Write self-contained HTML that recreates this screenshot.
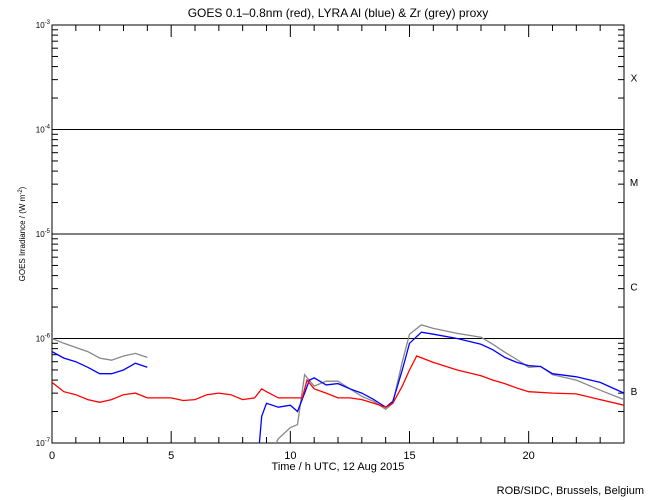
<!DOCTYPE html>
<html><head><meta charset="utf-8"><style>
body{margin:0;background:#fff;}
svg{display:block;font-family:"Liberation Sans",sans-serif;}
</style></head><body>
<svg id="c" width="650" height="500" viewBox="0 0 650 500">
<defs><clipPath id="plotclip"><rect x="52" y="25" width="572" height="418"/></clipPath></defs>
<rect width="650" height="500" fill="#fff"/>
<text x="338" y="17" font-size="12" text-anchor="middle">GOES 0.1–0.8nm (red), LYRA Al (blue) &amp; Zr (grey) proxy</text>
<text transform="translate(25,234) rotate(-90)" font-size="8" text-anchor="middle">GOES Irradiance / (W m<tspan dy="-3" font-size="6">-2</tspan><tspan dy="3">)</tspan></text>
<text x="338" y="470" font-size="11" text-anchor="middle">Time / h UTC, 12 Aug 2015</text>
<text x="644" y="494" font-size="11" text-anchor="end">ROB/SIDC, Brussels, Belgium</text>
<g id="axes"></g>
<g id="series" clip-path="url(#plotclip)"></g>
</svg>
<script>
const hoursRed=[0,0.5,1,1.5,2,2.5,3,3.5,4,4.5,5,5.5,6,6.5,7,7.5,8,8.5,8.8,9,9.5,10,10.5,10.7,11,11.5,12,12.5,13,13.5,14,14.3,14.7,15,15.3,16,17,18,18.5,19,19.6,20,21,22,23,24];
const valsRed=[3.8,3.1,2.9,2.6,2.45,2.6,2.9,3.0,2.7,2.7,2.7,2.55,2.6,2.9,3.0,2.9,2.6,2.7,3.3,3.1,2.7,2.7,2.7,4.0,3.3,3.0,2.7,2.7,2.6,2.4,2.2,2.4,3.5,5.0,6.8,5.9,5.0,4.4,4.0,3.7,3.3,3.1,3.0,2.95,2.6,2.3];
const hoursBlue1=[0,0.5,1,1.5,2,2.5,3,3.5,4];
const valsBlue1=[7.5,6.5,6.0,5.3,4.6,4.6,5.0,5.8,5.3];
const hoursBlue2=[8.7,8.8,9,9.5,10,10.3,10.6,10.8,11,11.5,12,12.5,13,13.5,14,14.3,14.7,15,15.5,16,17,18,18.5,19,19.5,20,20.5,21,22,23,24];
const valsBlue2=[1.0,1.8,2.4,2.2,2.3,2.0,3.0,4.0,4.2,3.6,3.7,3.3,3.0,2.6,2.2,2.5,5.0,9.0,11.5,11.0,10.0,8.8,7.8,6.6,5.9,5.5,5.4,4.6,4.3,3.8,3.0];
const hoursGrey1=[0,0.5,1,1.5,2,2.5,3,3.5,4];
const valsGrey1=[10,9,8.2,7.5,6.5,6.2,6.8,7.2,6.6];
const hoursGrey2=[9.3,9.5,10,10.3,10.6,11,11.5,12,12.5,13,13.5,14,14.3,14.7,15,15.5,16,17,18,18.5,19,19.5,20,20.5,21,22,23,24];
const valsGrey2=[0.9,1.1,1.4,1.5,4.5,3.5,3.9,3.9,3.3,2.8,2.5,2.1,2.4,6.0,11,13.5,12.5,11.2,10.3,8.8,7.4,6.3,5.3,5.4,4.5,4.0,3.2,2.6];
const xTicks=[0,5,10,15,20];
const yExps=[-7,-6,-5,-4,-3];
const classLabels=["B","C","M","X"];

const X0=52,X1=624,Y0=443,DEC=104.5;
const xs=h=>X0+(X1-X0)*h/24;
const ys=v=>Y0-(Math.log10(v*1e-7)+7)*DEC;
const yl=e=>Y0-(e+7)*DEC;
const NS="http://www.w3.org/2000/svg";
function mk(tag,attrs,parent){const e=document.createElementNS(NS,tag);for(const k in attrs)e.setAttribute(k,attrs[k]);parent.appendChild(e);return e;}
const ax=document.getElementById('axes');
const frame=mk('rect',{x:X0,y:yl(-3),width:X1-X0,height:Y0-yl(-3),fill:'none',stroke:'#000','stroke-width':1},ax);


[-6,-5,-4].forEach(e=>{
  const l=mk('line',{x1:X0,x2:X1,y1:yl(e),y2:yl(e),stroke:'#000','stroke-width':1},ax);
  
  
});
yExps.forEach(e=>{
  const t=mk('text',{x:X0-2,y:yl(e)+3,'font-size':8,'text-anchor':'end'},ax);
  t.innerHTML='10<tspan dy="-4" font-size="6">'+e+'</tspan>';
  
  
  if(e<-3){for(let m=2;m<=9;m++){const y=yl(e)-Math.log10(m)*DEC;
    const a=mk('line',{x1:X0,x2:X0+6,y1:y,y2:y,stroke:'#000'},ax);
    
    
    const b=mk('line',{x1:X1-6,x2:X1,y1:y,y2:y,stroke:'#000'},ax);
    
    }}
});
classLabels.forEach((c,i)=>{
  const t=mk('text',{x:634,y:yl(-7+i)-DEC/2+4,'font-size':10,'text-anchor':'middle'},ax);
  t.textContent=c;
  
  
});
for(let h=1;h<24;h++){const x=xs(h),L=(h%5===0)?12:6;
  const a=mk('line',{x1:x,x2:x,y1:Y0,y2:Y0-L,stroke:'#000'},ax);
  
  
  const b=mk('line',{x1:x,x2:x,y1:yl(-3),y2:yl(-3)+L,stroke:'#000'},ax);
  
  }
xTicks.forEach(h=>{
  const t=mk('text',{x:xs(h),y:Y0+16,'font-size':11,'text-anchor':'middle'},ax);
  t.textContent=h;
  
  
});
const sg=document.getElementById('series');
function line(hs,vs,col,name){
  const p=mk('polyline',{points:hs.map((h,i)=>xs(h).toFixed(1)+','+ys(vs[i]).toFixed(1)).join(' '),fill:'none',stroke:col,'stroke-width':1.3},sg);
  
  
}
line(hoursGrey1,valsGrey1,'#888','lyra-zr-proxy-line');
line(hoursGrey2,valsGrey2,'#888','lyra-zr-proxy-line-2');
line(hoursBlue1,valsBlue1,'#00f','lyra-al-proxy-line');
line(hoursBlue2,valsBlue2,'#00f','lyra-al-proxy-line-2');
line(hoursRed,valsRed,'#f00','goes-xray-line');
</script>
</body></html>
